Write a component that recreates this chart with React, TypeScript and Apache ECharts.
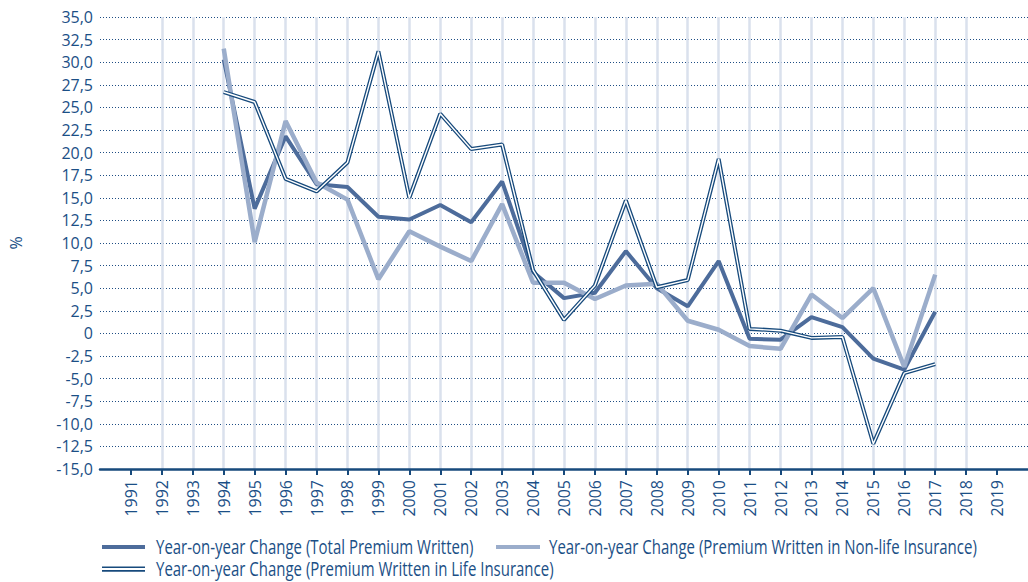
import React, { useEffect, useRef } from 'react';
import * as echarts from 'echarts';

const tickYears = [1991, 1992, 1993, 1994, 1995, 1996, 1997, 1998, 1999, 2000, 2001, 2002, 2003, 2004, 2005, 2006, 2007, 2008, 2009, 2010, 2011, 2012, 2013, 2014, 2015, 2016, 2017, 2018, 2019];
const dataYears = [1994, 1995, 1996, 1997, 1998, 1999, 2000, 2001, 2002, 2003, 2004, 2005, 2006, 2007, 2008, 2009, 2010, 2011, 2012, 2013, 2014, 2015, 2016, 2017];
const totalPremium = [30.3, 13.8, 21.8, 16.5, 16.2, 12.9, 12.6, 14.2, 12.3, 16.8, 6.8, 3.9, 4.5, 9.1, 5.0, 3.0, 8.0, -0.6, -0.7, 1.8, 0.7, -2.8, -4.0, 2.4];
const nonLifePremium = [31.5, 10.1, 23.5, 16.7, 14.8, 6.0, 11.3, 9.6, 8.0, 14.3, 5.6, 5.6, 3.8, 5.3, 5.5, 1.4, 0.4, -1.4, -1.7, 4.3, 1.7, 5.0, -3.7, 6.5];
const lifePremium = [26.7, 25.6, 17.1, 15.7, 18.9, 31.2, 15.0, 24.3, 20.4, 20.9, 7.0, 1.5, 5.3, 14.7, 5.1, 5.9, 19.3, 0.5, 0.3, -0.5, -0.4, -12.2, -4.4, -3.4];

const seriesNames = [
  'Year-on-year Change (Total Premium Written)',
  'Year-on-year Change (Premium Written in Non-life Insurance)',
  'Year-on-year Change (Premium Written in Life Insurance)',
];

const TXT = '#1b4f86';
const NAVY = '#174a7c';
const C_TOTAL = '#4d6c9b';
const C_NONLIFE = '#9badcb';
const FONT = '"Open Sans", "Noto Sans", sans-serif';

const pairs = (vals: number[]) => dataYears.map((y, i) => [y, vals[i]]);

const legendText = (text: string, x: number, y: number) => ({
  type: 'text',
  x,
  y,
  scaleX: 0.75,
  silent: true,
  style: {
    text,
    x: 0,
    y: 0,
    align: 'left',
    verticalAlign: 'middle',
    fontSize: 20,
    lineHeight: 20,
    fontFamily: FONT,
    fill: TXT,
  },
});

export default function App() {
  const ref = useRef<HTMLDivElement>(null);
  useEffect(() => {
    if (!ref.current) return;
    const chart = echarts.init(ref.current, undefined, { renderer: 'svg' });
    chart.setOption({
      animation: false,
      grid: { left: 99, right: -3, top: 17, bottom: 113, containLabel: false },
      xAxis: {
        type: 'value',
        min: 1990,
        max: 2020,
        interval: 1,
        axisLine: { show: true, onZero: false, lineStyle: { color: NAVY, width: 2.5 } },
        axisTick: { show: true, length: 6, customValues: tickYears, lineStyle: { color: NAVY, width: 2 } },
        axisLabel: {
          customValues: tickYears,
          rotate: 90,
          margin: 11,
          color: TXT,
          fontSize: 16,
          fontFamily: FONT,
          formatter: (v: number) => String(v),
        },
        splitLine: { show: true, showMinLine: false, showMaxLine: false, lineStyle: { color: '#dae1ed', width: 2.5 } },
      },
      yAxis: {
        type: 'value',
        min: -15,
        max: 35,
        interval: 2.5,
        axisLine: { show: false },
        axisTick: { show: false },
        axisLabel: {
          margin: 7,
          color: TXT,
          fontSize: 16,
          fontFamily: FONT,
          formatter: (v: number) => (v === 0 ? '0' : v.toFixed(1).replace('.', ',')),
        },
        splitLine: { show: true, lineStyle: { type: [1, 2], color: '#1f4e84', width: 1 } },
        name: '%',
        nameLocation: 'middle',
        nameRotate: 90,
        nameGap: 76,
        nameTextStyle: { color: TXT, fontSize: 16, fontFamily: FONT },
      },
      graphic: [
        { type: 'rect', silent: true, shape: { x: 102, y: 545, width: 43, height: 4 }, style: { fill: C_TOTAL } },
        legendText(seriesNames[0], 156, 546.5),
        { type: 'rect', silent: true, shape: { x: 496, y: 545, width: 44, height: 4 }, style: { fill: C_NONLIFE } },
        legendText(seriesNames[1], 549, 546.5),
        { type: 'rect', silent: true, shape: { x: 102, y: 566.5, width: 43, height: 1.6 }, style: { fill: NAVY } },
        { type: 'rect', silent: true, shape: { x: 102, y: 570.1, width: 43, height: 1.6 }, style: { fill: NAVY } },
        legendText(seriesNames[2], 156, 568),
      ],
      series: [
        {
          name: seriesNames[0],
          type: 'line',
          symbol: 'none',
          data: pairs(totalPremium),
          itemStyle: { color: C_TOTAL },
          lineStyle: { color: C_TOTAL, width: 4 },
        },
        {
          name: seriesNames[1],
          type: 'line',
          symbol: 'none',
          data: pairs(nonLifePremium),
          itemStyle: { color: C_NONLIFE },
          lineStyle: { color: C_NONLIFE, width: 4.5 },
        },
        {
          name: seriesNames[2],
          type: 'line',
          symbol: 'none',
          data: pairs(lifePremium),
          itemStyle: { color: NAVY },
          lineStyle: { color: NAVY, width: 4 },
        },
        {
          name: 'life-inner',
          type: 'line',
          symbol: 'none',
          data: pairs(lifePremium),
          itemStyle: { color: '#ffffff' },
          lineStyle: { color: '#ffffff', width: 1.4 },
          silent: true,
        },
      ],
    });
    return () => chart.dispose();
  }, []);
  return <div ref={ref} style={{ position: 'absolute', left: 0, top: 0, width: 1028, height: 582 }} />;
}
